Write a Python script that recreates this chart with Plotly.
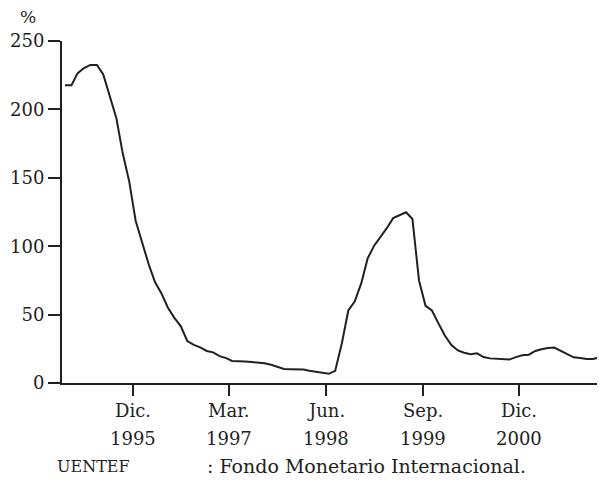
import pandas as pd
import plotly.graph_objects as go

# Monthly values (%), Jan 1995 - Jan 2002
values = [
    217.6, 217.6, 226.3, 230.2, 232.5, 232.5, 225.6, 209.7, 193.5, 167.9,
    147.0, 118.6, 102.2, 86.6, 74.0, 65.5, 55.2, 47.6, 41.6, 30.7,
    27.9, 26.0, 23.4, 22.4, 19.6, 18.2, 16.1, 16.1, 15.8, 15.3,
    14.9, 14.4, 13.3, 11.8, 10.2, 10.1, 9.9, 9.8, 9.0, 8.3,
    7.5, 6.7, 8.9, 28.7, 53.0, 59.5, 72.8, 90.9, 100.4, 106.7,
    113.0, 120.5, 122.9, 124.8, 119.9, 75.0, 56.4, 53.0, 43.6, 34.7,
    27.8, 23.8, 22.1, 21.1, 21.7, 19.0, 18.0, 17.6, 17.4, 17.1,
    18.9, 20.3, 20.7, 23.4, 24.7, 25.6, 25.9, 23.6, 21.6, 18.8,
    18.3, 17.5, 17.6, 18.9, 18.6,
]
dates = pd.date_range("1995-01-01", periods=len(values), freq="MS") + pd.Timedelta(days=14)

tick_dates = ["1995-12-01", "1997-03-01", "1998-06-01", "1999-09-01", "2000-12-01"]
tick_months = ["Dic.", "Mar.", "Jun.", "Sep.", "Dic."]
tick_years = ["1995", "1997", "1998", "1999", "2000"]
y_ticks = [0, 50, 100, 150, 200, 250]

INK = "#231f20"
FONT = "DejaVu Serif"

fig = go.Figure()
fig.add_trace(go.Scatter(x=dates, y=values, mode="lines",
                         line=dict(color=INK, width=2), hoverinfo="skip",
                         showlegend=False, cliponaxis=True))

# page body has an 8px margin, so the figure is sized/offset to compensate
fig.update_layout(
    width=597, height=475,
    margin=dict(l=54, r=0, t=33, b=100),
    paper_bgcolor="white", plot_bgcolor="white",
    font=dict(family=FONT, size=18, color=INK),
    xaxis=dict(type="date", range=["1995-01-01", "2002-01-10"],
               tickvals=tick_dates, ticktext=["" for _ in tick_dates],
               ticks="outside", ticklen=11, tickwidth=2, tickcolor=INK,
               showline=True, linewidth=2, linecolor=INK,
               showgrid=False, zeroline=False),
    yaxis=dict(range=[0, 250], tickvals=y_ticks,
               ticks="outside", ticklen=12, tickwidth=2, tickcolor=INK,
               showline=True, linewidth=2, linecolor=INK,
               showgrid=False, zeroline=False,
               tickfont=dict(family=FONT, size=18, color=INK)),
)

annotations = []
for d, m, yr in zip(tick_dates, tick_months, tick_years):
    annotations.append(dict(x=d, xref="x", y=0, yref="paper", text=m,
                            showarrow=False, xanchor="center", yanchor="middle",
                            yshift=-27, font=dict(family=FONT, size=18, color=INK)))
    annotations.append(dict(x=d, xref="x", y=0, yref="paper", text=yr,
                            showarrow=False, xanchor="center", yanchor="middle",
                            yshift=-55, font=dict(family=FONT, size=18, color=INK)))
annotations.append(dict(x=0, xref="paper", y=1, yref="paper", text="%",
                        showarrow=False, xanchor="center", yanchor="middle",
                        xshift=-34, yshift=24, font=dict(family=FONT, size=17, color=INK)))
annotations.append(dict(x=0, xref="paper", y=0, yref="paper", text="UENTEF",
                        showarrow=False, xanchor="left", yanchor="middle",
                        xshift=-7, yshift=-83, font=dict(family=FONT, size=16, color=INK)))
annotations.append(dict(x=0, xref="paper", y=0, yref="paper",
                        text=": Fondo Monetario Internacional.",
                        showarrow=False, xanchor="left", yanchor="middle",
                        xshift=143, yshift=-83, font=dict(family=FONT, size=19, color=INK)))
fig.update_layout(annotations=annotations)

fig.write_html("out.html")
